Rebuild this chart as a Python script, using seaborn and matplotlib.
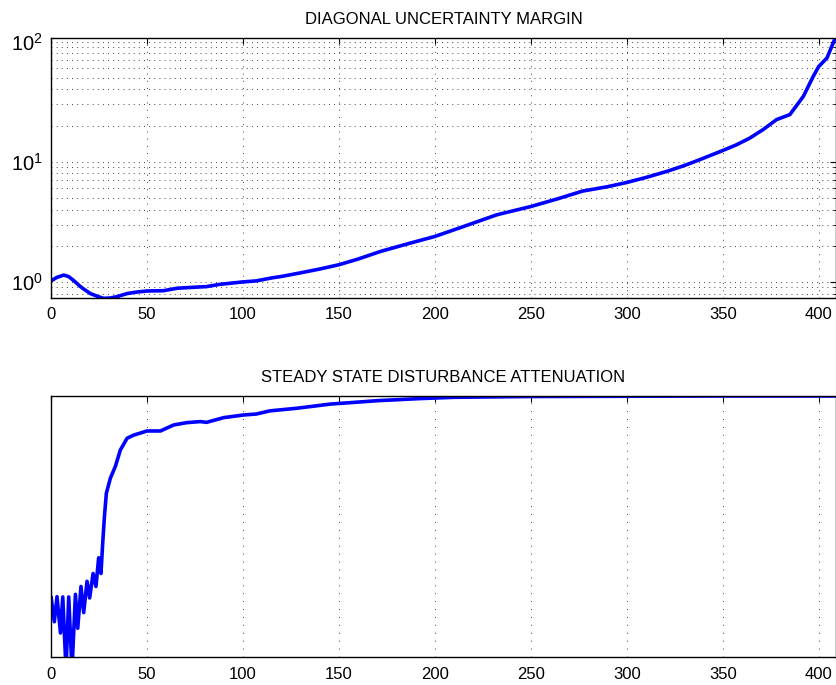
import numpy as np
import pandas as pd
import matplotlib
matplotlib.use("Agg")
import matplotlib.pyplot as plt
import seaborn as sns
from matplotlib.ticker import LogLocator, NullFormatter

# ---- data ----
top_title = "DIAGONAL UNCERTAINTY MARGIN"
bottom_title = "STEADY STATE DISTURBANCE ATTENUATION"

margin_x = [0, 3, 6.6, 9.2, 12, 15.3, 18, 20.5, 24, 27.4, 31, 34.4, 39.6, 45, 50, 58.7,
            65.6, 73, 81, 88, 100, 107, 115, 120, 130, 140, 150, 160, 171.5, 187, 200,
            214.9, 232.3, 250, 263.5, 277, 290, 300, 310, 320.8, 330, 338, 350, 357,
            364, 371, 378, 385, 392, 397.2, 400, 404.3, 408.6]
margin_y = [1.02, 1.09, 1.14, 1.107, 1.02, 0.914, 0.85, 0.80, 0.76, 0.73, 0.735, 0.755,
            0.80, 0.825, 0.84, 0.845, 0.886, 0.90, 0.914, 0.955, 1.0, 1.02, 1.08, 1.11,
            1.19, 1.28, 1.39, 1.55, 1.79, 2.10, 2.39, 2.89, 3.62, 4.24, 4.89, 5.7, 6.2,
            6.72, 7.4, 8.3, 9.3, 10.4, 12.4, 13.8, 15.7, 18.5, 22.4, 24.7, 35, 51.5, 62,
            73, 107]

atten_x = [0, 1.7, 3.1, 4.9, 6.1, 7.8, 9.2, 10.9, 12.7, 13.9, 15.6, 17, 18.75, 20.1,
           21.9, 23.4, 24.8, 26, 26.9, 27.8, 28.8, 30.9, 33.5, 36.1, 39.6, 43, 50, 57,
           63.9, 70.8, 77.8, 81, 89.9, 100, 107, 114, 128, 145.5, 170, 192, 210, 250,
           300, 350, 409]
atten_y = [0.231, 0.135, 0.231, 0.092, 0.23, -0.05, 0.23, -0.05, 0.24, 0.11, 0.27,
           0.17, 0.29, 0.226, 0.32, 0.27, 0.38, 0.32, 0.435, 0.537, 0.627, 0.685, 0.73,
           0.793, 0.838, 0.85, 0.866, 0.866, 0.889, 0.898, 0.902, 0.899, 0.917, 0.927,
           0.931, 0.943, 0.953, 0.969, 0.982, 0.99, 0.995, 0.998, 0.999, 1.0, 1.0]

x_ticks = [0, 50, 100, 150, 200, 250, 300, 350, 400]

# ---- style ----
sns.set_theme(style="white")
plt.rcParams["font.family"] = ["Liberation Sans", "DejaVu Sans"]
plt.rcParams["mathtext.fontset"] = "custom"
plt.rcParams["mathtext.rm"] = "Liberation Sans"
plt.rcParams["mathtext.it"] = "Liberation Sans"
plt.rcParams["lines.scale_dashes"] = False
plt.rcParams["text.color"] = "black"
plt.rcParams["axes.labelcolor"] = "black"
plt.rcParams["xtick.color"] = "black"
plt.rcParams["ytick.color"] = "black"

fig = plt.figure(figsize=(8.37, 6.85), dpi=100)
ax1 = fig.add_axes([0.061, 0.5655, 0.9378, 0.379])
ax2 = fig.add_axes([0.061, 0.0409, 0.9378, 0.381])

df1 = pd.DataFrame({"x": margin_x, "y": margin_y})
df2 = pd.DataFrame({"x": atten_x, "y": atten_y})

sns.lineplot(data=df1, x="x", y="y", ax=ax1, color="#0000ff", linewidth=2.6,
             estimator=None, sort=True)
sns.lineplot(data=df2, x="x", y="y", ax=ax2, color="#0000ff", linewidth=2.6,
             estimator=None, sort=True)

for ax in (ax1, ax2):
    ax.set_xlim(0, 409)
    ax.set_xticks(x_ticks)
    ax.set_xlabel("")
    ax.set_ylabel("")
    for s in ax.spines.values():
        s.set_visible(True)
        s.set_color("black")
        s.set_linewidth(1.0)
    ax.tick_params(axis="both", which="both", direction="in", top=True, right=True,
                   colors="black", labelcolor="black", labelsize=12, length=4,
                   width=0.8)
    ax.tick_params(axis="x", pad=7)
    ax.set_facecolor("white")

# top: log scale
ax1.set_yscale("log")
ax1.set_ylim(0.74, 107)
ax1.yaxis.set_major_locator(LogLocator(base=10, numticks=10))
ax1.yaxis.set_minor_locator(LogLocator(base=10, subs=np.arange(2, 10), numticks=20))
ax1.yaxis.set_minor_formatter(NullFormatter())
ax1.tick_params(axis="y", which="minor", length=2.5, width=0.6)
ax1.tick_params(axis="y", which="major", pad=6, labelsize=14.5)
ax1.grid(True, axis="x", which="major", color="#444444", linewidth=0.7,
         linestyle=(0, (0.7, 4.5)))
ax1.grid(True, axis="y", which="both", color="#444444", linewidth=0.7,
         linestyle=(0, (0.7, 3.0)))
ax1.set_title(top_title, fontsize=12, pad=10, color="black")

# bottom: linear, no y labels
ax2.set_ylim(0, 1.0)
ax2.set_yticks([])
ax2.grid(True, axis="x", which="major", color="#444444", linewidth=0.7,
         linestyle=(0, (0.7, 5.0)))
ax2.grid(False, axis="y")
ax2.set_title(bottom_title, fontsize=12, pad=10, color="black")

fig.savefig("out.png", dpi=100)
